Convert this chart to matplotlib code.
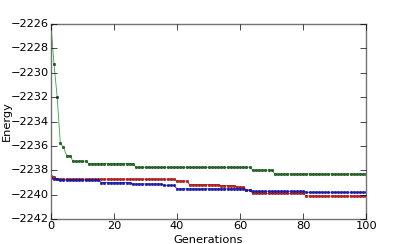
import matplotlib
matplotlib.use('Agg')
import matplotlib.pyplot as plt
import numpy as np

plt.style.use('classic')

# generations 0..100
generations = np.arange(0, 101)

energy_green = [
    -2226.0, -2229.3, -2232.0, -2235.8, -2236.1, -2236.8, -2236.8, -2237.25, -2237.25, -2237.25,
    -2237.25, -2237.25, -2237.45, -2237.45, -2237.45, -2237.45, -2237.45, -2237.45, -2237.45, -2237.45,
    -2237.45, -2237.45, -2237.45, -2237.45, -2237.45, -2237.45, -2237.45, -2237.75, -2237.75, -2237.75,
    -2237.75, -2237.75, -2237.75, -2237.75, -2237.75, -2237.75, -2237.75, -2237.75, -2237.75, -2237.75,
    -2237.75, -2237.75, -2237.75, -2237.75, -2237.75, -2237.75, -2237.75, -2237.75, -2237.75, -2237.75,
    -2237.75, -2237.75, -2237.75, -2237.75, -2237.75, -2237.75, -2237.75, -2237.75, -2237.75, -2237.75,
    -2237.75, -2237.75, -2237.75, -2237.75, -2237.98, -2237.98, -2237.98, -2237.98, -2237.98, -2237.98,
    -2237.98, -2238.3, -2238.3, -2238.3, -2238.3, -2238.3, -2238.3, -2238.3, -2238.3, -2238.3,
    -2238.3, -2238.3, -2238.3, -2238.3, -2238.3, -2238.3, -2238.3, -2238.3, -2238.3, -2238.3,
    -2238.3, -2238.3, -2238.3, -2238.3, -2238.3, -2238.3, -2238.3, -2238.3, -2238.3, -2238.3,
    -2238.3,
]

energy_red = [
    -2238.45, -2238.55, -2238.72, -2238.72, -2238.72, -2238.72, -2238.72, -2238.72, -2238.72, -2238.72,
    -2238.72, -2238.72, -2238.72, -2238.72, -2238.72, -2238.72, -2238.72, -2238.72, -2238.72, -2238.72,
    -2238.72, -2238.72, -2238.72, -2238.72, -2238.72, -2238.72, -2238.72, -2238.72, -2238.72, -2238.72,
    -2238.72, -2238.72, -2238.72, -2238.72, -2238.72, -2238.72, -2238.72, -2238.72, -2238.72, -2238.72,
    -2238.88, -2238.88, -2238.88, -2238.88, -2239.17, -2239.17, -2239.17, -2239.17, -2239.17, -2239.17,
    -2239.17, -2239.17, -2239.17, -2239.17, -2239.25, -2239.25, -2239.25, -2239.25, -2239.25, -2239.36,
    -2239.36, -2239.36, -2239.6, -2239.6, -2239.9, -2239.9, -2239.9, -2239.9, -2239.9, -2239.9,
    -2239.9, -2239.9, -2239.9, -2239.9, -2239.9, -2239.9, -2239.9, -2239.9, -2239.9, -2239.9,
    -2239.9, -2240.1, -2240.1, -2240.1, -2240.1, -2240.1, -2240.1, -2240.1, -2240.1, -2240.1,
    -2240.1, -2240.1, -2240.1, -2240.1, -2240.1, -2240.1, -2240.1, -2240.1, -2240.1, -2240.1,
    -2240.1,
]

energy_blue = [
    -2238.6, -2238.7, -2238.75, -2238.8, -2238.8, -2238.8, -2238.8, -2238.8, -2238.8, -2238.8,
    -2238.8, -2238.8, -2238.8, -2238.8, -2238.8, -2238.8, -2239.0, -2239.0, -2239.0, -2239.0,
    -2239.0, -2239.0, -2239.0, -2239.0, -2239.0, -2239.0, -2239.12, -2239.12, -2239.12, -2239.12,
    -2239.12, -2239.12, -2239.12, -2239.12, -2239.12, -2239.12, -2239.23, -2239.23, -2239.23, -2239.23,
    -2239.52, -2239.52, -2239.52, -2239.52, -2239.52, -2239.52, -2239.52, -2239.52, -2239.52, -2239.52,
    -2239.52, -2239.52, -2239.52, -2239.52, -2239.52, -2239.52, -2239.52, -2239.52, -2239.52, -2239.52,
    -2239.52, -2239.52, -2239.65, -2239.65, -2239.72, -2239.72, -2239.72, -2239.72, -2239.72, -2239.72,
    -2239.72, -2239.72, -2239.72, -2239.72, -2239.72, -2239.72, -2239.72, -2239.72, -2239.72, -2239.72,
    -2239.72, -2239.8, -2239.8, -2239.8, -2239.8, -2239.8, -2239.8, -2239.8, -2239.8, -2239.8,
    -2239.8, -2239.8, -2239.8, -2239.8, -2239.8, -2239.8, -2239.8, -2239.8, -2239.8, -2239.8,
    -2239.8,
]

fig = plt.figure(figsize=(4.07, 2.44), dpi=100, facecolor='white')
ax = fig.add_subplot(111)
fig.subplots_adjust(left=0.125, right=0.9, bottom=0.102, top=0.902)

ax.plot(generations, energy_green, '.-', color='#3aa53a', markersize=3.5, linewidth=0.6,
        markerfacecolor='#1e7a1e', markeredgewidth=0.4, markeredgecolor='#0c300c')
ax.plot(generations, energy_red, '.-', color='#e02020', markersize=3.5, linewidth=0.6,
        markerfacecolor='#d01818', markeredgewidth=0.4, markeredgecolor='#801010')
ax.plot(generations, energy_blue, '.-', color='#2020e0', markersize=3.5, linewidth=0.6,
        markerfacecolor='#1818d0', markeredgewidth=0.4, markeredgecolor='#101080')

ax.set_xlim(0, 100)
ax.set_ylim(-2242, -2226)
ax.set_yticks(np.arange(-2242, -2225, 2))
ax.set_xticks(np.arange(0, 101, 20))
ax.ticklabel_format(useOffset=False)
ax.tick_params(labelsize=8.2, pad=1.5)
for sp in ax.spines.values():
    sp.set_color('0.45')
ax.set_xlabel('Generations', fontsize=8.2)
ax.set_ylabel('Energy', fontsize=8.2)
ax.xaxis.set_label_coords(0.5, -0.082)
ax.yaxis.set_label_coords(-0.125, 0.5)

fig.savefig('out.png', dpi=100, facecolor='white')
